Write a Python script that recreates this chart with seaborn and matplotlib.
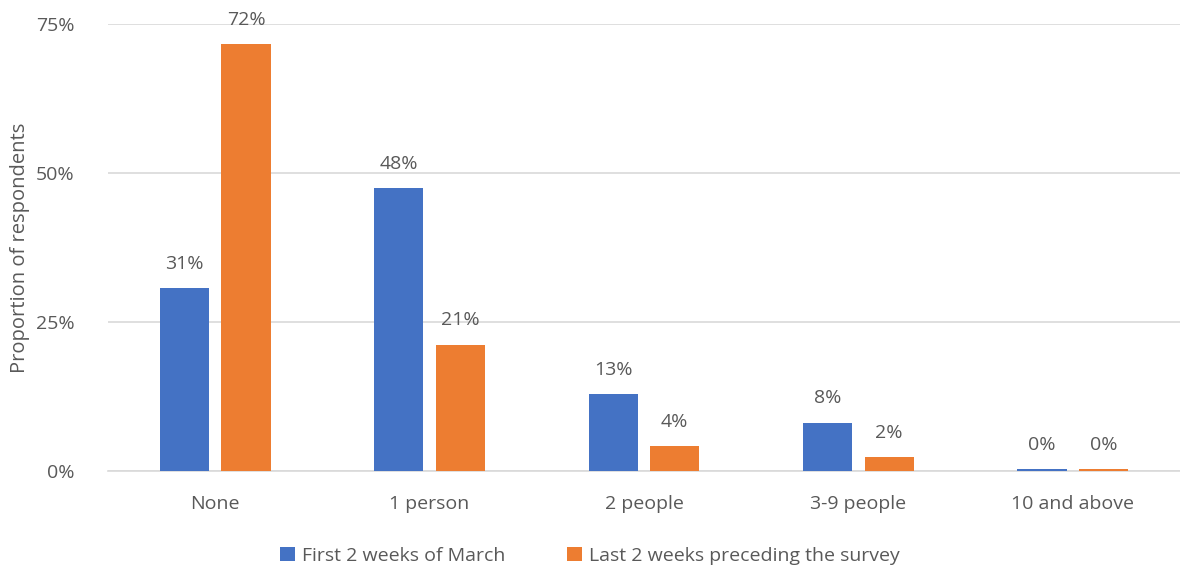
import matplotlib
matplotlib.use("Agg")
import matplotlib.pyplot as plt
import seaborn as sns
import pandas as pd
from matplotlib.ticker import PercentFormatter

categories = ["None", "1 person", "2 people", "3-9 people", "10 and above"]
series_names = ["First 2 weeks of March", "Last 2 weeks preceding the survey"]
first_march = [30.7, 47.5, 12.9, 8.1, 0.3]
last_weeks = [71.6, 21.2, 4.2, 2.3, 0.3]
yticks = [0, 25, 50, 75]

colors = ["#4472C4", "#ED7D31"]
text_color = "#595959"

df = pd.DataFrame({
    "category": categories * 2,
    "series": [series_names[0]] * len(categories) + [series_names[1]] * len(categories),
    "value": first_march + last_weeks,
})

sns.set_theme(style="white")
plt.rcParams["font.family"] = ["Open Sans", "DejaVu Sans"]

fig = plt.figure(figsize=(11.8, 5.7), dpi=100)
ax = fig.add_axes([0.0915, 0.1737, 0.9085, 0.7843])

sns.barplot(data=df, x="category", y="value", hue="series", order=categories,
            hue_order=series_names, palette=colors, width=0.575, gap=0.2,
            saturation=1, ax=ax, legend=True, linewidth=0)

ax.set_ylim(0, 75)
ax.set_yticks(yticks)
ax.yaxis.set_major_formatter(PercentFormatter(decimals=0))
ax.grid(axis="y", color="#D9D9D9", linewidth=1.2)
ax.set_axisbelow(True)
for s in ["top", "left", "right"]:
    ax.spines[s].set_visible(False)
ax.spines["bottom"].set_color("#D9D9D9")
ax.spines["bottom"].set_linewidth(1.2)
ax.spines["bottom"].set_zorder(0.5)
ax.tick_params(axis="both", length=0, colors=text_color, labelsize=14)
ax.tick_params(axis="x", pad=17)
ax.tick_params(axis="y", pad=24)
ax.set_xlabel("")
ax.set_ylabel("Proportion of respondents", color=text_color, fontsize=14.5, labelpad=4)
ax.set_xlim(-0.5, len(categories) - 0.5)

for cont in ax.containers:
    labels = [f"{v:.0f}%" for v in cont.datavalues]
    ax.bar_label(cont, labels=labels, padding=11, color=text_color, fontsize=14, clip_on=False)

handles, labels = ax.get_legend_handles_labels()
ax.get_legend().remove()
fig.legend(handles, labels, loc="lower center", bbox_to_anchor=(0.5, -0.022), ncol=2,
           frameon=False, fontsize=14, labelcolor=text_color, handlelength=0.75,
           handleheight=0.75, handletextpad=0.35, columnspacing=3.2)

fig.savefig("out.png", dpi=100)
